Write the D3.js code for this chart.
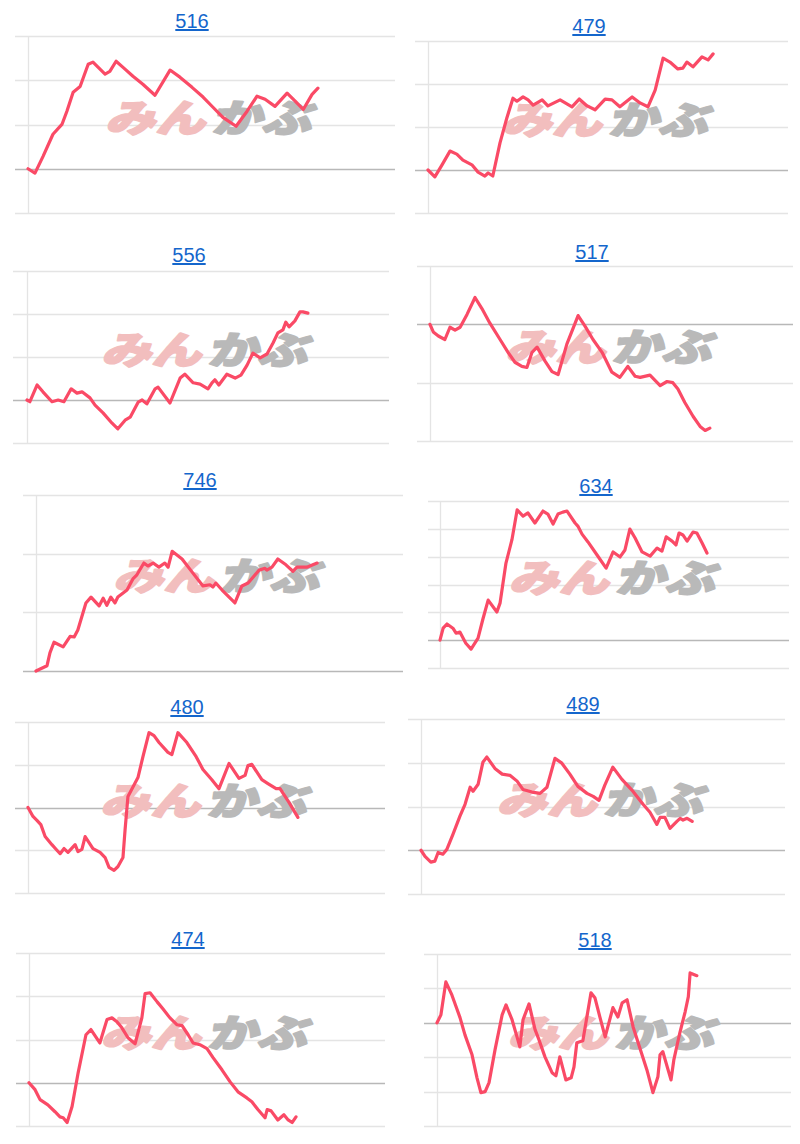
<!DOCTYPE html>
<html><head><meta charset="utf-8">
<script src="https://cdn.jsdelivr.net/npm/d3@7"></script>
<style>
html,body{margin:0;padding:0;background:#fff;}
svg{display:block;}
</style></head>
<body>
<svg id="chart" width="800" height="1144"></svg>
<script>
// ---- DATA ----
const titles = ["516","479","556","517","746","634","480","489","474","518"];

const ticks516 = [-10,0,10,20,30];
const ticks479 = [-10,0,10,20,30];
const ticks556 = [-10,0,10,20,30];
const ticks517 = [-20,-10,0,10];
const ticks746 = [0,10,20,30];
const ticks634 = [-10,0,10,20,30,40,50];
const ticks480 = [-20,-10,0,10,20];
const ticks489 = [-10,0,10,20,30];
const ticks474 = [-10,0,10,20,30];
const ticks518 = [-30,-20,-10,0,10,20];

// [day (0-100 of the period), change %]
const s516 = [[0,0],[1.9,-1.0],[4.1,2.8],[6.8,7.8],[9.3,10.1],[10.6,13.0],[12.3,17.3],[14.2,18.6],[16.4,23.6],[17.7,24.1],[21.0,21.4],[22.3,22.0],[24.0,24.3],[25.9,22.9],[28.6,20.9],[31.3,19.1],[34.6,16.6],[38.7,22.3],[41.4,20.7],[44.7,18.4],[47.7,16.2],[50.4,13.9],[53.1,11.6],[56.7,9.6],[59.7,13.0],[62.4,16.4],[64.6,15.7],[67.3,14.1],[70.6,17.1],[72.8,15.3],[75.0,13.4],[77.4,16.8],[79.0,18.2]];
const s479 = [[0,0],[1.9,-1.6],[3.9,1.2],[6.1,4.4],[8.0,3.7],[9.7,2.3],[12.2,1.2],[13.9,-0.5],[15.8,-1.4],[16.7,-0.7],[18.0,-1.4],[20.0,6.3],[21.9,12.1],[23.6,16.7],[24.7,16.0],[26.4,17.0],[27.8,16.3],[29.2,15.1],[31.7,16.3],[33.3,14.9],[36.7,16.3],[40.0,14.7],[42.0,16.5],[44.2,14.9],[46.4,14.0],[49.2,16.5],[51.1,16.3],[53.3,14.7],[56.7,17.0],[58.9,15.6],[61.1,14.7],[63.1,18.6],[65.3,26.0],[67.2,25.1],[69.4,23.5],[70.8,23.7],[71.9,25.1],[73.6,24.0],[76.1,26.3],[77.8,25.6],[79.2,27.0]];
const s556 = [[0,0],[0.8,-0.4],[2.8,3.5],[4.4,1.9],[6.9,-0.4],[8.6,0],[10.2,-0.4],[12.2,2.6],[13.8,1.6],[15.2,1.9],[17.4,0.5],[18.8,-1.2],[21.0,-3.0],[23.5,-5.4],[25.1,-6.7],[27.1,-4.7],[28.5,-4.0],[30.7,-0.5],[31.8,0],[33.1,-0.9],[35.4,2.6],[36.2,3.0],[39.5,-0.7],[42.3,5.1],[43.6,6.0],[45.9,4.0],[47.8,3.7],[50.0,2.6],[51.1,4.0],[51.9,4.7],[53.0,3.5],[55.2,6.0],[57.5,5.1],[59.1,5.8],[60.8,8.1],[62.4,10.9],[64.4,9.8],[66.3,10.7],[68.0,13.3],[69.3,15.6],[70.7,16.3],[71.5,18.1],[72.4,17.0],[74.0,18.4],[75.4,20.5],[76.2,20.5],[77.6,20.2]];
const s517 = [[0,0],[0.9,-1.3],[2.3,-2.0],[4.1,-2.6],[5.5,-0.5],[6.9,-1.0],[8.3,-0.5],[10.2,1.7],[12.4,4.6],[14.3,2.7],[16.5,0.2],[19.3,-2.6],[21.5,-4.8],[23.4,-6.5],[25.3,-7.2],[26.7,-7.4],[28.1,-4.8],[29.5,-3.9],[31.7,-6.3],[33.6,-8.1],[35.3,-8.6],[37.7,-3.4],[40.8,1.5],[42.7,-0.3],[44.9,-2.6],[47.4,-4.8],[50.1,-8.2],[52.3,-9.1],[54.5,-7.2],[56.5,-8.9],[57.9,-9.1],[60.6,-8.7],[63.4,-10.5],[65.3,-9.8],[66.9,-10.0],[68.3,-11.1],[70.2,-13.4],[72.5,-15.8],[74.4,-17.5],[75.8,-18.2],[77.1,-17.8]];
const s746 = [[0,0],[3.0,0.9],[3.8,3.1],[4.9,4.9],[7.4,4.1],[9.3,5.9],[10.4,5.8],[11.4,7.0],[13.6,11.6],[15.0,12.6],[17.2,11.1],[18.3,12.4],[19.3,11.2],[20.4,12.6],[21.5,11.6],[22.3,12.6],[24.8,13.8],[26.4,15.7],[27.5,16.4],[29.4,18.4],[30.5,17.9],[31.9,18.4],[33.5,17.7],[35.1,18.4],[36.0,17.7],[37.1,20.4],[39.8,19.1],[42.5,16.9],[45.5,14.5],[47.4,14.7],[48.2,14.3],[49.0,15.0],[50.7,13.8],[54.2,11.6],[56.1,14.5],[57.8,15.0],[60.8,17.2],[62.4,17.5],[62.9,17.2],[64.3,17.7],[65.9,19.1],[68.1,18.1],[70.0,17.0],[71.1,17.7],[73.8,17.7],[76.6,18.4]];
const s634 = [[0,0],[0.9,4.3],[2.0,5.8],[3.7,4.3],[4.6,2.5],[5.7,2.9],[7.4,-1.1],[8.9,-3.2],[10.9,0.7],[12.3,7.6],[13.8,14.4],[16.3,10.1],[17.2,13.3],[18.9,27.7],[20.6,36.0],[22.1,46.8],[23.8,44.6],[25.2,45.7],[27.2,42.1],[29.5,46.4],[30.9,45.3],[32.4,41.7],[33.8,45.3],[35.2,46.0],[36.4,46.4],[38.7,42.1],[39.5,41.0],[40.7,38.1],[42.4,35.3],[45.0,30.6],[47.6,25.9],[49.6,31.7],[51.6,29.9],[53.0,32.4],[54.4,39.9],[55.9,36.7],[57.9,31.7],[60.2,30.2],[62.2,33.1],[63.6,32.0],[64.8,37.1],[66.5,35.6],[67.6,34.2],[68.5,38.5],[69.6,37.8],[70.8,35.6],[72.5,38.8],[73.6,38.5],[75.1,34.9],[76.5,31.3]];
const s480 = [[0,0],[1.4,-2.1],[2.5,-3.0],[3.6,-4.0],[4.8,-6.8],[6.7,-8.7],[8.1,-10.0],[9.0,-10.8],[10.1,-9.6],[11.2,-10.5],[13.2,-8.7],[14.0,-10.3],[15.1,-9.8],[16.0,-6.8],[18.2,-9.6],[20.2,-10.5],[21.6,-11.7],[22.7,-14.0],[24.1,-14.7],[25.2,-13.8],[26.6,-11.7],[27.2,-5.1],[28.0,2.6],[30.8,7.0],[32.2,11.9],[33.9,17.5],[35.3,16.8],[36.7,15.2],[39.2,12.9],[40.3,12.4],[42.0,17.5],[44.5,15.2],[47.1,11.9],[49.0,8.9],[51.5,6.5],[53.5,4.4],[56.3,10.3],[59.1,6.8],[60.8,7.5],[61.6,9.8],[62.7,10.1],[65.5,6.5],[67.2,5.6],[69.5,4.4],[70.6,4.4],[73.1,1.2],[75.6,-2.3]];
const s489 = [[0,0],[1.1,-1.4],[2.7,-2.7],[3.8,-2.5],[4.7,-0.5],[6.0,-0.9],[7.1,0.2],[8.8,3.7],[10.7,7.8],[12.1,10.5],[13.5,14.4],[14.3,13.5],[15.7,15.1],[17.0,20.1],[18.1,21.3],[20.3,18.7],[22.3,17.4],[24.5,17.1],[26.4,15.8],[28.0,13.9],[30.5,13.3],[32.7,13.0],[34.6,14.4],[36.8,21.0],[38.7,19.9],[40.9,17.4],[43.1,14.6],[45.6,13.0],[47.3,12.3],[48.9,11.4],[50.5,14.9],[52.7,19.0],[55.2,16.2],[58.2,13.5],[61.0,10.5],[62.9,8.7],[64.8,5.9],[65.7,7.5],[67.0,7.5],[68.4,5.0],[70.3,6.6],[71.2,7.3],[72.0,6.9],[73.1,7.3],[74.5,6.6]];
const s474 = [[0,0],[1.7,-1.6],[3.1,-3.9],[5.3,-5.1],[7.3,-6.7],[8.7,-7.9],[9.6,-8.1],[10.7,-9.2],[12.1,-5.5],[13.8,2.3],[16.0,11.1],[17.4,12.3],[19.9,9.2],[21.9,14.6],[23.3,15.0],[24.7,14.1],[26.1,12.7],[27.8,10.4],[29.8,9.0],[31.7,15.0],[32.6,20.6],[34.0,20.8],[36.0,18.7],[37.6,17.1],[39.6,15.0],[41.6,13.4],[43.0,13.2],[44.7,11.1],[46.1,9.2],[48.0,8.8],[50.0,7.9],[51.7,5.8],[54.2,3.0],[56.5,0.2],[58.7,-2.1],[61.2,-3.5],[62.6,-4.4],[64.3,-6.2],[66.3,-8.1],[66.9,-6.2],[68.0,-6.5],[69.9,-8.6],[71.6,-7.4],[72.8,-8.6],[73.9,-9.2],[75.0,-7.9]];
const s518 = [[0,0],[1.1,2.3],[2.5,11.9],[4.2,8.1],[5.6,4.1],[6.5,1.5],[7.9,-3.5],[9.9,-9.3],[11.3,-16.0],[12.4,-20.3],[13.6,-20.0],[14.7,-17.4],[16.4,-7.8],[18.4,2.3],[19.5,5.2],[21.2,0.9],[22.6,-4.1],[23.4,-7.0],[24.3,0.9],[26.0,5.5],[27.7,-2.0],[28.8,-4.9],[30.5,-9.9],[32.5,-14.5],[33.6,-15.4],[34.7,-9.9],[36.4,-16.6],[37.9,-16.0],[38.7,-12.8],[39.5,-5.8],[41.2,-5.2],[43.5,8.7],[44.6,7.3],[46.0,1.7],[47.5,-4.1],[49.7,4.4],[51.1,1.7],[52.3,5.8],[53.7,6.7],[55.4,-1.2],[57.3,-7.3],[59.3,-13.7],[61.0,-20.3],[62.4,-15.7],[63.0,-9.3],[63.8,-8.4],[66.1,-16.6],[66.9,-10.8],[68.6,-2.9],[70.1,3.2],[71.0,7.6],[71.5,14.5],[73.4,13.7]];

const seriesList = [s516,s479,s556,s517,s746,s634,s480,s489,s474,s518];
const tickList = [ticks516,ticks479,ticks556,ticks517,ticks746,ticks634,ticks480,ticks489,ticks474,ticks518];

// ---- LAYOUT (positions only) ----
const layout = [
  {tx:192,ty:28, gx0:15, ax:28, right:395, top:36, bottom:213},
  {tx:589,ty:33, gx0:415,ax:428,right:788, top:41, bottom:213},
  {tx:189,ty:262,gx0:13, ax:27, right:389, top:271,bottom:443},
  {tx:592,ty:259,gx0:417,ax:430,right:793, top:266,bottom:441},
  {tx:200,ty:487,gx0:23, ax:36, right:403, top:495,bottom:671},
  {tx:596,ty:493,gx0:428,ax:440,right:789, top:501,bottom:668},
  {tx:187,ty:714,gx0:15, ax:28, right:385, top:722,bottom:893},
  {tx:583,ty:711,gx0:408,ax:421,right:785, top:719,bottom:894},
  {tx:188,ty:946,gx0:16, ax:29, right:385, top:953,bottom:1126},
  {tx:595,ty:947,gx0:424,ax:437,right:791, top:954,bottom:1126}
];

const svg = d3.select("#chart");
const lineColor = "#fa4a66";

seriesList.forEach((data, i) => {
  const L = layout[i];
  const ticks = tickList[i];
  const g = svg.append("g");
  const x = d3.scaleLinear().domain([0,100]).range([L.ax, L.right]);
  const y = d3.scaleLinear().domain([d3.min(ticks), d3.max(ticks)]).range([L.bottom, L.top]);

  // gridlines
  g.selectAll("line.grid").data(ticks).join("line")
    .attr("x1", L.gx0).attr("x2", L.right)
    .attr("y1", d => Math.round(y(d)) + 0.5).attr("y2", d => Math.round(y(d)) + 0.5)
    .attr("stroke", d => d === 0 ? "#b8b8b8" : "#e4e4e4")
    .attr("stroke-width", 1.3);
  // vertical axis line
  g.append("line")
    .attr("x1", x(0) + 0.5).attr("x2", x(0) + 0.5)
    .attr("y1", L.top).attr("y2", L.bottom)
    .attr("stroke", "#e4e4e4").attr("stroke-width", 1.3);

  // watermark
  const cx = (L.gx0 + L.right) / 2 + 8;
  const cy = (L.top + L.bottom) / 2 - 7;
  const wm = g.append("g").attr("transform", `translate(${cx},${cy})`);
  const wmParts = [
    {t:"みん", x:-54, c:"#f2bebe"},
    {t:"かぶ", x:52, c:"#b9b9b9"}
  ];
  wmParts.forEach(p => {
    wm.append("text")
      .attr("x", p.x).attr("y", 19)
      .attr("text-anchor", "middle")
      .attr("transform", "skewX(-14) scale(1,0.76)")
      .attr("font-family", "'Noto Sans CJK JP', sans-serif")
      .attr("font-weight", 900).attr("font-size", 50)
      .attr("fill", p.c)
      .attr("stroke", p.c).attr("stroke-width", 2.5)
      .attr("stroke-linejoin", "round")
      .text(p.t);
  });

  // line
  const line = d3.line().x(d => x(d[0])).y(d => y(d[1]));
  g.append("path").datum(data)
    .attr("d", line)
    .attr("fill", "none")
    .attr("stroke", lineColor)
    .attr("stroke-width", 3.2)
    .attr("stroke-linejoin", "round")
    .attr("stroke-linecap", "round");

  // title
  g.append("text")
    .attr("x", L.tx).attr("y", L.ty)
    .attr("text-anchor", "middle")
    .attr("font-family", "'Liberation Sans', Arial, sans-serif")
    .attr("font-size", 20)
    .attr("fill", "#1466cc")
    .attr("text-decoration", "underline")
    .text(titles[i]);
});
</script>
</body></html>
